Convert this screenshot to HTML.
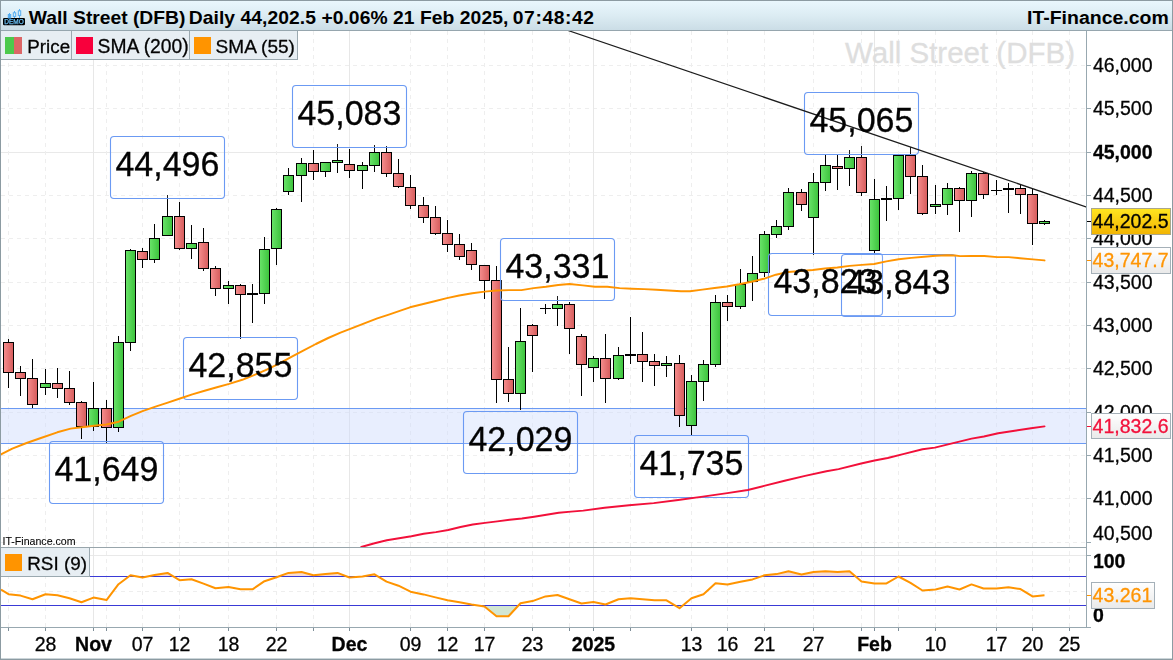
<!DOCTYPE html>
<html><head><meta charset="utf-8"><title>Wall Street (DFB) Daily</title>
<style>
html,body{margin:0;padding:0;background:#fff;}
body{width:1173px;height:660px;overflow:hidden;font-family:"Liberation Sans", Arial, sans-serif;}
svg{display:block;}
text{font-family:"Liberation Sans", Arial, sans-serif;}
.ax{font-size:19.5px;fill:#000;}
.b{font-weight:bold;}
.big{font-size:34px;fill:#000;}
</style></head><body>
<svg width="1173" height="660" viewBox="0 0 1173 660">
<defs>
<linearGradient id="tg" x1="0" y1="0" x2="0" y2="1"><stop offset="0" stop-color="#e9f7fd"/><stop offset="0.5" stop-color="#dcecf3"/><stop offset="1" stop-color="#cbdde6"/></linearGradient>
<linearGradient id="gg" x1="0" y1="0" x2="1" y2="0"><stop offset="0" stop-color="#6ae46a"/><stop offset="1" stop-color="#3cc23c"/></linearGradient>
<linearGradient id="rg" x1="0" y1="0" x2="1" y2="0"><stop offset="0" stop-color="#f68e8e"/><stop offset="1" stop-color="#d65c5c"/></linearGradient>
<linearGradient id="yg" x1="0" y1="0" x2="0" y2="1"><stop offset="0" stop-color="#ffe61e"/><stop offset="1" stop-color="#f2b400"/></linearGradient>
<linearGradient id="wg" x1="0" y1="0" x2="0" y2="1"><stop offset="0" stop-color="#ffffff"/><stop offset="1" stop-color="#e9e9e9"/></linearGradient>
<clipPath id="cm"><rect x="1" y="31" width="1085" height="516"/></clipPath>
<clipPath id="cr"><rect x="1" y="548" width="1085" height="79"/></clipPath>
<clipPath id="c70"><rect x="1" y="548" width="1085" height="28.5"/></clipPath>
<clipPath id="c30"><rect x="1" y="605.5" width="1085" height="22"/></clipPath>
</defs>
<rect width="1173" height="660" fill="#fff"/>

<g shape-rendering="crispEdges" fill="none" stroke-width="1">
<line x1="1" x2="1086" y1="65.5" y2="65.5" stroke="#eeeeee" stroke-dasharray="4 4"/>
<line x1="1" x2="1086" y1="108.5" y2="108.5" stroke="#eeeeee" stroke-dasharray="4 4"/>
<line x1="1" x2="1086" y1="152.5" y2="152.5" stroke="#e9e9e9"/>
<line x1="1" x2="1086" y1="195.5" y2="195.5" stroke="#eeeeee" stroke-dasharray="4 4"/>
<line x1="1" x2="1086" y1="238.5" y2="238.5" stroke="#eeeeee" stroke-dasharray="4 4"/>
<line x1="1" x2="1086" y1="282.5" y2="282.5" stroke="#eeeeee" stroke-dasharray="4 4"/>
<line x1="1" x2="1086" y1="325.5" y2="325.5" stroke="#eeeeee" stroke-dasharray="4 4"/>
<line x1="1" x2="1086" y1="368.5" y2="368.5" stroke="#eeeeee" stroke-dasharray="4 4"/>
<line x1="1" x2="1086" y1="412.5" y2="412.5" stroke="#eeeeee" stroke-dasharray="4 4"/>
<line x1="1" x2="1086" y1="455.5" y2="455.5" stroke="#eeeeee" stroke-dasharray="4 4"/>
<line x1="1" x2="1086" y1="498.5" y2="498.5" stroke="#eeeeee" stroke-dasharray="4 4"/>
<line x1="1" x2="1086" y1="542.5" y2="542.5" stroke="#eeeeee" stroke-dasharray="4 4"/>
<line x1="1" x2="1086" y1="555.5" y2="555.5" stroke="#e9e9e9"/>
<line x1="1" x2="1086" y1="591.5" y2="591.5" stroke="#eeeeee" stroke-dasharray="4 4"/>
<line x1="8.5" x2="8.5" y1="31" y2="627" stroke="#eeeeee" stroke-dasharray="4 4"/>
<line x1="45.5" x2="45.5" y1="31" y2="627" stroke="#eeeeee" stroke-dasharray="4 4"/>
<line x1="93.5" x2="93.5" y1="31" y2="627" stroke="#e7e7e7"/>
<line x1="106.5" x2="106.5" y1="31" y2="627" stroke="#eeeeee" stroke-dasharray="4 4"/>
<line x1="142.5" x2="142.5" y1="31" y2="627" stroke="#eeeeee" stroke-dasharray="4 4"/>
<line x1="179.5" x2="179.5" y1="31" y2="627" stroke="#eeeeee" stroke-dasharray="4 4"/>
<line x1="228.5" x2="228.5" y1="31" y2="627" stroke="#eeeeee" stroke-dasharray="4 4"/>
<line x1="276.5" x2="276.5" y1="31" y2="627" stroke="#eeeeee" stroke-dasharray="4 4"/>
<line x1="313.5" x2="313.5" y1="31" y2="627" stroke="#eeeeee" stroke-dasharray="4 4"/>
<line x1="349.5" x2="349.5" y1="31" y2="627" stroke="#e7e7e7"/>
<line x1="410.5" x2="410.5" y1="31" y2="627" stroke="#eeeeee" stroke-dasharray="4 4"/>
<line x1="447.5" x2="447.5" y1="31" y2="627" stroke="#eeeeee" stroke-dasharray="4 4"/>
<line x1="484.5" x2="484.5" y1="31" y2="627" stroke="#eeeeee" stroke-dasharray="4 4"/>
<line x1="532.5" x2="532.5" y1="31" y2="627" stroke="#eeeeee" stroke-dasharray="4 4"/>
<line x1="569.5" x2="569.5" y1="31" y2="627" stroke="#eeeeee" stroke-dasharray="4 4"/>
<line x1="593.5" x2="593.5" y1="31" y2="627" stroke="#e7e7e7"/>
<line x1="630.5" x2="630.5" y1="31" y2="627" stroke="#eeeeee" stroke-dasharray="4 4"/>
<line x1="691.5" x2="691.5" y1="31" y2="627" stroke="#eeeeee" stroke-dasharray="4 4"/>
<line x1="727.5" x2="727.5" y1="31" y2="627" stroke="#eeeeee" stroke-dasharray="4 4"/>
<line x1="764.5" x2="764.5" y1="31" y2="627" stroke="#eeeeee" stroke-dasharray="4 4"/>
<line x1="813.5" x2="813.5" y1="31" y2="627" stroke="#eeeeee" stroke-dasharray="4 4"/>
<line x1="861.5" x2="861.5" y1="31" y2="627" stroke="#eeeeee" stroke-dasharray="4 4"/>
<line x1="874.5" x2="874.5" y1="31" y2="627" stroke="#e7e7e7"/>
<line x1="898.5" x2="898.5" y1="31" y2="627" stroke="#eeeeee" stroke-dasharray="4 4"/>
<line x1="935.5" x2="935.5" y1="31" y2="627" stroke="#eeeeee" stroke-dasharray="4 4"/>
<line x1="996.5" x2="996.5" y1="31" y2="627" stroke="#eeeeee" stroke-dasharray="4 4"/>
<line x1="1032.5" x2="1032.5" y1="31" y2="627" stroke="#eeeeee" stroke-dasharray="4 4"/>
<line x1="1069.5" x2="1069.5" y1="31" y2="627" stroke="#eeeeee" stroke-dasharray="4 4"/>
</g>
<g opacity="0.99"><text x="845" y="62.5" font-size="29.5" fill="#dedede" stroke="#dedede" stroke-width="0.3">Wall Street (DFB)</text></g>
<rect x="1" y="408.5" width="1085" height="35" fill="rgba(205,218,252,0.45)"/>
<g shape-rendering="crispEdges" stroke="#6b9af3" stroke-width="1"><line x1="1" x2="1086" y1="408.5" y2="408.5"/><line x1="1" x2="1086" y1="443.5" y2="443.5"/></g>
<g clip-path="url(#cm)" shape-rendering="crispEdges" stroke="#000" stroke-width="1">
<rect x="8" y="338.7" width="1" height="49.6" fill="#000" stroke="none"/>
<rect x="3.5" y="342.5" width="10" height="30.0" fill="url(#rg)"/>
<rect x="20" y="366.0" width="1" height="30.3" fill="#000" stroke="none"/>
<rect x="15.5" y="372.5" width="10" height="6.0" fill="url(#rg)"/>
<rect x="32" y="359.1" width="1" height="49.2" fill="#000" stroke="none"/>
<rect x="27.5" y="378.5" width="10" height="26.0" fill="url(#rg)"/>
<rect x="45" y="369.1" width="1" height="25.9" fill="#000" stroke="none"/>
<rect x="40.5" y="383.5" width="10" height="4.0" fill="url(#gg)"/>
<rect x="57" y="368.2" width="1" height="29.9" fill="#000" stroke="none"/>
<rect x="52.5" y="383.5" width="10" height="5.0" fill="url(#rg)"/>
<rect x="69" y="371.3" width="1" height="33.7" fill="#000" stroke="none"/>
<rect x="64.5" y="388.5" width="10" height="14.0" fill="url(#rg)"/>
<rect x="81" y="400.9" width="1" height="38.3" fill="#000" stroke="none"/>
<rect x="76.5" y="402.5" width="10" height="24.0" fill="url(#rg)"/>
<rect x="93" y="382.2" width="1" height="48.8" fill="#000" stroke="none"/>
<rect x="88.5" y="408.5" width="10" height="18.0" fill="url(#gg)"/>
<rect x="106" y="400.0" width="1" height="43.2" fill="#000" stroke="none"/>
<rect x="101.5" y="408.5" width="10" height="19.0" fill="url(#rg)"/>
<rect x="118" y="335.5" width="1" height="96.5" fill="#000" stroke="none"/>
<rect x="113.5" y="342.5" width="10" height="85.0" fill="url(#gg)"/>
<rect x="130" y="248.9" width="1" height="102.1" fill="#000" stroke="none"/>
<rect x="125.5" y="250.5" width="10" height="92.0" fill="url(#gg)"/>
<rect x="142" y="248.2" width="1" height="19.9" fill="#000" stroke="none"/>
<rect x="137.5" y="251.5" width="10" height="8.0" fill="url(#rg)"/>
<rect x="154" y="223.9" width="1" height="39.3" fill="#000" stroke="none"/>
<rect x="149.5" y="238.5" width="10" height="21.0" fill="url(#gg)"/>
<rect x="167" y="194.8" width="1" height="41.0" fill="#000" stroke="none"/>
<rect x="162.5" y="216.5" width="10" height="19.0" fill="url(#gg)"/>
<rect x="179" y="202.1" width="1" height="48.3" fill="#000" stroke="none"/>
<rect x="174.5" y="216.5" width="10" height="32.0" fill="url(#rg)"/>
<rect x="191" y="225.2" width="1" height="33.9" fill="#000" stroke="none"/>
<rect x="186.5" y="243.5" width="10" height="5.0" fill="url(#gg)"/>
<rect x="203" y="228.1" width="1" height="43.1" fill="#000" stroke="none"/>
<rect x="198.5" y="242.5" width="10" height="26.0" fill="url(#rg)"/>
<rect x="215" y="266.4" width="1" height="30.0" fill="#000" stroke="none"/>
<rect x="210.5" y="268.5" width="10" height="20.0" fill="url(#rg)"/>
<rect x="228" y="281.4" width="1" height="23.0" fill="#000" stroke="none"/>
<rect x="223.5" y="285.5" width="10" height="3.0" fill="url(#gg)"/>
<rect x="240" y="284.1" width="1" height="55.0" fill="#000" stroke="none"/>
<rect x="235.5" y="285.5" width="10" height="9.0" fill="url(#rg)"/>
<rect x="252" y="284.1" width="1" height="38.5" fill="#000" stroke="none"/>
<rect x="247.0" y="293" width="11" height="2" fill="#000" stroke="none"/>
<rect x="264" y="237.3" width="1" height="67.1" fill="#000" stroke="none"/>
<rect x="259.5" y="249.5" width="10" height="44.0" fill="url(#gg)"/>
<rect x="276" y="207.9" width="1" height="57.4" fill="#000" stroke="none"/>
<rect x="271.5" y="209.5" width="10" height="39.0" fill="url(#gg)"/>
<rect x="288" y="168.1" width="1" height="27.1" fill="#000" stroke="none"/>
<rect x="283.5" y="175.5" width="10" height="16.0" fill="url(#gg)"/>
<rect x="301" y="157.9" width="1" height="44.4" fill="#000" stroke="none"/>
<rect x="296.5" y="163.5" width="10" height="12.0" fill="url(#gg)"/>
<rect x="313" y="150.1" width="1" height="30.1" fill="#000" stroke="none"/>
<rect x="308.5" y="163.5" width="10" height="8.0" fill="url(#rg)"/>
<rect x="325" y="162.2" width="1" height="15.1" fill="#000" stroke="none"/>
<rect x="320.5" y="162.5" width="10" height="9.0" fill="url(#gg)"/>
<rect x="337" y="144.1" width="1" height="29.1" fill="#000" stroke="none"/>
<rect x="332.5" y="160.5" width="10" height="2.0" fill="url(#gg)"/>
<rect x="349" y="148.9" width="1" height="29.4" fill="#000" stroke="none"/>
<rect x="344.5" y="164.5" width="10" height="6.0" fill="url(#rg)"/>
<rect x="362" y="162.0" width="1" height="27.2" fill="#000" stroke="none"/>
<rect x="357.5" y="165.5" width="10" height="5.0" fill="url(#gg)"/>
<rect x="374" y="145.0" width="1" height="27.2" fill="#000" stroke="none"/>
<rect x="369.5" y="152.5" width="10" height="13.0" fill="url(#gg)"/>
<rect x="386" y="146.2" width="1" height="31.1" fill="#000" stroke="none"/>
<rect x="381.5" y="152.5" width="10" height="21.0" fill="url(#rg)"/>
<rect x="398" y="159.1" width="1" height="29.1" fill="#000" stroke="none"/>
<rect x="393.5" y="173.5" width="10" height="13.0" fill="url(#rg)"/>
<rect x="410" y="175.1" width="1" height="34.2" fill="#000" stroke="none"/>
<rect x="405.5" y="187.5" width="10" height="18.0" fill="url(#rg)"/>
<rect x="423" y="197.4" width="1" height="25.7" fill="#000" stroke="none"/>
<rect x="418.5" y="205.5" width="10" height="12.0" fill="url(#rg)"/>
<rect x="435" y="205.9" width="1" height="29.3" fill="#000" stroke="none"/>
<rect x="430.5" y="217.5" width="10" height="16.0" fill="url(#rg)"/>
<rect x="447" y="220.2" width="1" height="32.0" fill="#000" stroke="none"/>
<rect x="442.5" y="233.5" width="10" height="11.0" fill="url(#rg)"/>
<rect x="459" y="234.2" width="1" height="26.0" fill="#000" stroke="none"/>
<rect x="454.5" y="244.5" width="10" height="12.0" fill="url(#rg)"/>
<rect x="471" y="243.0" width="1" height="26.9" fill="#000" stroke="none"/>
<rect x="466.5" y="250.5" width="10" height="14.0" fill="url(#rg)"/>
<rect x="484" y="265.4" width="1" height="33.1" fill="#000" stroke="none"/>
<rect x="479.5" y="265.5" width="10" height="15.0" fill="url(#rg)"/>
<rect x="496" y="266.0" width="1" height="137.3" fill="#000" stroke="none"/>
<rect x="491.5" y="280.5" width="10" height="99.0" fill="url(#rg)"/>
<rect x="508" y="347.2" width="1" height="55.2" fill="#000" stroke="none"/>
<rect x="503.5" y="379.5" width="10" height="14.0" fill="url(#rg)"/>
<rect x="520" y="308.3" width="1" height="101.9" fill="#000" stroke="none"/>
<rect x="515.5" y="341.5" width="10" height="52.0" fill="url(#gg)"/>
<rect x="532" y="323.6" width="1" height="48.6" fill="#000" stroke="none"/>
<rect x="527.5" y="325.5" width="10" height="10.0" fill="url(#rg)"/>
<rect x="545" y="304.3" width="1" height="9.7" fill="#000" stroke="none"/>
<rect x="540.0" y="307.5" width="11" height="1" fill="#000" stroke="none"/>
<rect x="557" y="296.2" width="1" height="29.3" fill="#000" stroke="none"/>
<rect x="552.5" y="304.5" width="10" height="4.0" fill="url(#gg)"/>
<rect x="569" y="302.0" width="1" height="51.5" fill="#000" stroke="none"/>
<rect x="564.5" y="304.5" width="10" height="24.0" fill="url(#rg)"/>
<rect x="581" y="333.7" width="1" height="61.8" fill="#000" stroke="none"/>
<rect x="576.5" y="336.5" width="10" height="28.0" fill="url(#rg)"/>
<rect x="593" y="355.8" width="1" height="26.4" fill="#000" stroke="none"/>
<rect x="588.5" y="358.5" width="10" height="9.0" fill="url(#gg)"/>
<rect x="605" y="334.2" width="1" height="69.1" fill="#000" stroke="none"/>
<rect x="600.5" y="358.5" width="10" height="20.0" fill="url(#rg)"/>
<rect x="618" y="347.2" width="1" height="33.0" fill="#000" stroke="none"/>
<rect x="613.5" y="355.5" width="10" height="23.0" fill="url(#gg)"/>
<rect x="630" y="317.0" width="1" height="47.4" fill="#000" stroke="none"/>
<rect x="625.0" y="354" width="11" height="2" fill="#000" stroke="none"/>
<rect x="642" y="331.7" width="1" height="50.4" fill="#000" stroke="none"/>
<rect x="637.5" y="354.5" width="10" height="7.0" fill="url(#rg)"/>
<rect x="654" y="354.3" width="1" height="32.0" fill="#000" stroke="none"/>
<rect x="649.5" y="361.5" width="10" height="4.0" fill="url(#rg)"/>
<rect x="666" y="356.3" width="1" height="21.1" fill="#000" stroke="none"/>
<rect x="661.5" y="363.5" width="10" height="2.0" fill="url(#gg)"/>
<rect x="679" y="355.0" width="1" height="72.1" fill="#000" stroke="none"/>
<rect x="674.5" y="363.5" width="10" height="52.0" fill="url(#rg)"/>
<rect x="691" y="375.1" width="1" height="60.3" fill="#000" stroke="none"/>
<rect x="686.5" y="381.5" width="10" height="44.0" fill="url(#gg)"/>
<rect x="703" y="360.2" width="1" height="41.2" fill="#000" stroke="none"/>
<rect x="698.5" y="364.5" width="10" height="17.0" fill="url(#gg)"/>
<rect x="715" y="295.0" width="1" height="72.4" fill="#000" stroke="none"/>
<rect x="710.5" y="302.5" width="10" height="62.0" fill="url(#gg)"/>
<rect x="727" y="295.0" width="1" height="26.2" fill="#000" stroke="none"/>
<rect x="722.5" y="302.5" width="10" height="4.0" fill="url(#rg)"/>
<rect x="740" y="268.5" width="1" height="40.6" fill="#000" stroke="none"/>
<rect x="735.5" y="284.5" width="10" height="22.0" fill="url(#gg)"/>
<rect x="752" y="256.0" width="1" height="45.4" fill="#000" stroke="none"/>
<rect x="747.5" y="273.5" width="10" height="8.0" fill="url(#gg)"/>
<rect x="764" y="231.1" width="1" height="46.2" fill="#000" stroke="none"/>
<rect x="759.5" y="234.5" width="10" height="38.0" fill="url(#gg)"/>
<rect x="776" y="220.0" width="1" height="18.0" fill="#000" stroke="none"/>
<rect x="771.5" y="226.5" width="10" height="8.0" fill="url(#gg)"/>
<rect x="788" y="188.3" width="1" height="41.7" fill="#000" stroke="none"/>
<rect x="783.5" y="192.5" width="10" height="34.0" fill="url(#gg)"/>
<rect x="801" y="189.1" width="1" height="22.1" fill="#000" stroke="none"/>
<rect x="796.5" y="192.5" width="10" height="12.0" fill="url(#rg)"/>
<rect x="813" y="173.1" width="1" height="81.4" fill="#000" stroke="none"/>
<rect x="808.5" y="182.5" width="10" height="35.0" fill="url(#gg)"/>
<rect x="825" y="153.5" width="1" height="37.4" fill="#000" stroke="none"/>
<rect x="820.5" y="165.5" width="10" height="17.0" fill="url(#gg)"/>
<rect x="837" y="155.1" width="1" height="35.0" fill="#000" stroke="none"/>
<rect x="832.5" y="166.5" width="10" height="2.0" fill="url(#rg)"/>
<rect x="849" y="149.9" width="1" height="36.3" fill="#000" stroke="none"/>
<rect x="844.5" y="157.5" width="10" height="11.0" fill="url(#gg)"/>
<rect x="861" y="146.1" width="1" height="49.9" fill="#000" stroke="none"/>
<rect x="856.5" y="157.5" width="10" height="35.0" fill="url(#rg)"/>
<rect x="874" y="179.3" width="1" height="73.9" fill="#000" stroke="none"/>
<rect x="869.5" y="199.5" width="10" height="51.0" fill="url(#gg)"/>
<rect x="886" y="186.1" width="1" height="35.0" fill="#000" stroke="none"/>
<rect x="881.0" y="198" width="11" height="2" fill="#000" stroke="none"/>
<rect x="898" y="155.2" width="1" height="55.1" fill="#000" stroke="none"/>
<rect x="893.5" y="155.5" width="10" height="43.0" fill="url(#gg)"/>
<rect x="910" y="147.3" width="1" height="46.2" fill="#000" stroke="none"/>
<rect x="905.5" y="155.5" width="10" height="21.0" fill="url(#rg)"/>
<rect x="922" y="165.1" width="1" height="50.1" fill="#000" stroke="none"/>
<rect x="917.5" y="176.5" width="10" height="37.0" fill="url(#rg)"/>
<rect x="935" y="185.2" width="1" height="29.0" fill="#000" stroke="none"/>
<rect x="930.5" y="204.5" width="10" height="2.0" fill="url(#gg)"/>
<rect x="947" y="182.8" width="1" height="32.4" fill="#000" stroke="none"/>
<rect x="942.5" y="188.5" width="10" height="16.0" fill="url(#gg)"/>
<rect x="959" y="187.1" width="1" height="45.3" fill="#000" stroke="none"/>
<rect x="954.5" y="188.5" width="10" height="12.0" fill="url(#rg)"/>
<rect x="971" y="171.0" width="1" height="46.2" fill="#000" stroke="none"/>
<rect x="966.5" y="173.5" width="10" height="27.0" fill="url(#gg)"/>
<rect x="983" y="172.4" width="1" height="26.1" fill="#000" stroke="none"/>
<rect x="978.5" y="173.5" width="10" height="21.0" fill="url(#rg)"/>
<rect x="996" y="180.2" width="1" height="14.3" fill="#000" stroke="none"/>
<rect x="991.0" y="189.5" width="11" height="1" fill="#000" stroke="none"/>
<rect x="1008" y="182.8" width="1" height="30.4" fill="#000" stroke="none"/>
<rect x="1003.0" y="188" width="11" height="2" fill="#000" stroke="none"/>
<rect x="1020" y="184.8" width="1" height="29.4" fill="#000" stroke="none"/>
<rect x="1015.5" y="188.5" width="10" height="6.0" fill="url(#rg)"/>
<rect x="1032" y="188.5" width="1" height="56.7" fill="#000" stroke="none"/>
<rect x="1027.5" y="194.5" width="10" height="29.0" fill="url(#rg)"/>
<rect x="1044" y="220.0" width="1" height="5.3" fill="#000" stroke="none"/>
<rect x="1039.5" y="221.5" width="10" height="2.0" fill="url(#gg)"/>
</g>
<rect x="110.5" y="136.5" width="114" height="62" rx="3.5" fill="rgba(255,255,255,0.12)" stroke="#6b9af3" stroke-width="1.1"/>
<rect x="292.5" y="85.5" width="114" height="62" rx="3.5" fill="rgba(255,255,255,0.12)" stroke="#6b9af3" stroke-width="1.1"/>
<rect x="183.5" y="337.5" width="114" height="62" rx="3.5" fill="rgba(255,255,255,0.12)" stroke="#6b9af3" stroke-width="1.1"/>
<rect x="49.5" y="441.5" width="114" height="62" rx="3.5" fill="rgba(255,255,255,0.12)" stroke="#6b9af3" stroke-width="1.1"/>
<rect x="500.5" y="238.5" width="114" height="62" rx="3.5" fill="rgba(255,255,255,0.12)" stroke="#6b9af3" stroke-width="1.1"/>
<rect x="463.5" y="411.5" width="114" height="62" rx="3.5" fill="rgba(255,255,255,0.12)" stroke="#6b9af3" stroke-width="1.1"/>
<rect x="634.5" y="435.5" width="114" height="62" rx="3.5" fill="rgba(255,255,255,0.12)" stroke="#6b9af3" stroke-width="1.1"/>
<rect x="804.5" y="92.5" width="114" height="62" rx="3.5" fill="rgba(255,255,255,0.12)" stroke="#6b9af3" stroke-width="1.1"/>
<rect x="768.5" y="253.5" width="114" height="62" rx="3.5" fill="rgba(255,255,255,0.12)" stroke="#6b9af3" stroke-width="1.1"/>
<rect x="841.5" y="254.5" width="114" height="62" rx="3.5" fill="rgba(255,255,255,0.12)" stroke="#6b9af3" stroke-width="1.1"/>
<g clip-path="url(#cm)" fill="none" stroke-linejoin="round" stroke-linecap="round">
<path d="M361.3,547.0 L374.6,543.3 L386.8,540.3 L399.1,538.2 L411.4,536.2 L423.7,533.7 L435.9,532.1 L448.2,530.0 L460.5,527.0 L472.8,524.5 L485.0,522.9 L497.3,521.4 L509.6,519.8 L521.9,518.5 L534.1,516.7 L546.4,514.7 L558.7,512.8 L571.0,511.6 L583.2,510.6 L604.6,507.8 L629.1,505.2 L653.7,503.1 L678.2,500.0 L702.8,496.6 L727.3,493.1 L747.8,490.0 L764.1,485.9 L784.6,480.8 L805.1,475.9 L826.4,471.3 L838.6,469.1 L861.2,463.5 L874.5,460.5 L887.7,458.0 L904.1,453.9 L922.5,449.2 L934.8,447.6 L953.2,443.1 L971.6,438.6 L983.9,436.5 L998.2,433.3 L1014.6,430.8 L1031.0,428.3 L1044.5,426.4" stroke="#f2103a" stroke-width="1.95"/>
<path d="M1.0,454.4 L12.3,448.7 L26.6,443.0 L40.9,438.0 L57.3,432.3 L70.6,428.6 L81.8,427.2 L94.1,425.8 L106.4,424.5 L118.7,421.7 L130.9,415.9 L143.2,410.8 L155.5,406.7 L167.8,402.6 L180.0,398.5 L192.3,394.4 L204.6,390.8 L216.9,387.3 L229.2,383.9 L242.3,379.8 L254.6,374.8 L266.8,369.7 L279.1,363.6 L291.4,356.8 L303.7,350.3 L315.9,344.0 L328.2,338.0 L340.5,332.7 L352.8,327.8 L365.0,323.1 L377.3,318.4 L389.6,314.3 L401.9,310.2 L410.0,307.3 L422.3,304.3 L434.6,301.2 L446.9,298.1 L459.2,295.5 L472.3,293.2 L484.6,291.6 L496.8,290.5 L509.1,290.1 L521.4,290.1 L533.7,288.1 L545.9,286.7 L558.2,285.0 L569.5,284.0 L582.8,285.4 L595.0,286.7 L607.3,286.7 L619.6,288.1 L631.9,288.7 L644.1,289.1 L656.4,289.7 L668.7,290.5 L681.0,291.2 L690.0,291.3 L702.3,289.6 L714.6,288.0 L726.8,286.5 L739.1,284.3 L751.4,281.8 L763.7,278.8 L775.9,274.7 L788.2,272.0 L800.5,271.0 L812.8,270.0 L825.0,268.5 L837.3,267.5 L849.6,265.9 L861.9,264.9 L874.1,264.0 L886.4,261.4 L898.7,259.3 L911.3,257.9 L924.3,256.8 L935.7,255.8 L947.0,255.2 L955.1,255.5 L960.0,256.1 L971.3,256.0 L984.3,256.0 L997.3,257.1 L1008.6,257.1 L1020.0,258.2 L1032.9,259.4 L1044.5,260.4" stroke="#ff9400" stroke-width="1.95"/>
<line x1="568" y1="30.5" x2="1086" y2="206.8" stroke="#1c1c1c" stroke-width="1.25"/>
</g>
<g shape-rendering="crispEdges"><line x1="1" x2="1086" y1="547.5" y2="547.5" stroke="#98a5ab" stroke-width="1"/></g>
<path d="M1.0,589.5 L8.5,594.2 L20.5,595.6 L32.5,599.3 L45.5,594.2 L57.5,595.2 L69.5,598.3 L81.5,602.3 L93.5,597.6 L106.5,600.1 L118.5,584.2 L130.5,575.3 L142.5,577.5 L154.5,575.1 L167.5,572.9 L179.5,580.2 L191.5,579.2 L203.5,583.6 L215.5,588.3 L228.5,587.1 L240.5,589.3 L252.5,589.3 L264.5,581.2 L276.5,577.3 L288.5,572.9 L301.5,572.0 L313.5,575.3 L325.5,574.1 L337.5,572.9 L349.5,577.5 L362.5,576.5 L374.5,574.3 L386.5,581.6 L398.5,585.7 L410.5,591.7 L423.5,594.4 L435.5,597.4 L447.5,600.3 L459.5,602.3 L471.5,604.5 L484.5,606.4 L496.5,616.3 L508.5,616.3 L520.5,603.3 L532.5,601.1 L545.5,596.4 L557.5,595.0 L569.5,599.3 L581.5,603.5 L593.5,602.1 L605.5,604.5 L618.5,599.3 L630.5,598.2 L642.5,599.3 L654.5,600.3 L666.5,600.3 L679.5,608.2 L691.5,598.3 L703.5,594.2 L715.5,583.2 L727.5,584.6 L740.5,581.8 L752.5,579.4 L764.5,575.3 L776.5,574.1 L788.5,571.2 L801.5,574.5 L813.5,572.1 L825.5,571.2 L837.5,572.1 L849.5,571.2 L861.5,581.4 L874.5,583.4 L886.5,583.4 L898.5,576.5 L910.5,582.8 L922.5,590.5 L935.5,589.5 L947.5,586.5 L959.5,589.5 L971.5,584.4 L983.5,588.5 L996.5,588.5 L1008.5,587.3 L1020.5,589.1 L1032.5,596.4 L1044.5,595.2 L1044.5,576.5 L1,576.5 Z" fill="#f6dcd4" clip-path="url(#c70)"/>
<path d="M1.0,589.5 L8.5,594.2 L20.5,595.6 L32.5,599.3 L45.5,594.2 L57.5,595.2 L69.5,598.3 L81.5,602.3 L93.5,597.6 L106.5,600.1 L118.5,584.2 L130.5,575.3 L142.5,577.5 L154.5,575.1 L167.5,572.9 L179.5,580.2 L191.5,579.2 L203.5,583.6 L215.5,588.3 L228.5,587.1 L240.5,589.3 L252.5,589.3 L264.5,581.2 L276.5,577.3 L288.5,572.9 L301.5,572.0 L313.5,575.3 L325.5,574.1 L337.5,572.9 L349.5,577.5 L362.5,576.5 L374.5,574.3 L386.5,581.6 L398.5,585.7 L410.5,591.7 L423.5,594.4 L435.5,597.4 L447.5,600.3 L459.5,602.3 L471.5,604.5 L484.5,606.4 L496.5,616.3 L508.5,616.3 L520.5,603.3 L532.5,601.1 L545.5,596.4 L557.5,595.0 L569.5,599.3 L581.5,603.5 L593.5,602.1 L605.5,604.5 L618.5,599.3 L630.5,598.2 L642.5,599.3 L654.5,600.3 L666.5,600.3 L679.5,608.2 L691.5,598.3 L703.5,594.2 L715.5,583.2 L727.5,584.6 L740.5,581.8 L752.5,579.4 L764.5,575.3 L776.5,574.1 L788.5,571.2 L801.5,574.5 L813.5,572.1 L825.5,571.2 L837.5,572.1 L849.5,571.2 L861.5,581.4 L874.5,583.4 L886.5,583.4 L898.5,576.5 L910.5,582.8 L922.5,590.5 L935.5,589.5 L947.5,586.5 L959.5,589.5 L971.5,584.4 L983.5,588.5 L996.5,588.5 L1008.5,587.3 L1020.5,589.1 L1032.5,596.4 L1044.5,595.2 L1044.5,605.5 L1,605.5 Z" fill="#d2e6d2" clip-path="url(#c30)"/>
<g shape-rendering="crispEdges" stroke="#3a3ad6" stroke-width="1"><line x1="1" x2="1086" y1="576.5" y2="576.5"/><line x1="1" x2="1086" y1="605.5" y2="605.5"/></g>
<path d="M1.0,589.5 L8.5,594.2 L20.5,595.6 L32.5,599.3 L45.5,594.2 L57.5,595.2 L69.5,598.3 L81.5,602.3 L93.5,597.6 L106.5,600.1 L118.5,584.2 L130.5,575.3 L142.5,577.5 L154.5,575.1 L167.5,572.9 L179.5,580.2 L191.5,579.2 L203.5,583.6 L215.5,588.3 L228.5,587.1 L240.5,589.3 L252.5,589.3 L264.5,581.2 L276.5,577.3 L288.5,572.9 L301.5,572.0 L313.5,575.3 L325.5,574.1 L337.5,572.9 L349.5,577.5 L362.5,576.5 L374.5,574.3 L386.5,581.6 L398.5,585.7 L410.5,591.7 L423.5,594.4 L435.5,597.4 L447.5,600.3 L459.5,602.3 L471.5,604.5 L484.5,606.4 L496.5,616.3 L508.5,616.3 L520.5,603.3 L532.5,601.1 L545.5,596.4 L557.5,595.0 L569.5,599.3 L581.5,603.5 L593.5,602.1 L605.5,604.5 L618.5,599.3 L630.5,598.2 L642.5,599.3 L654.5,600.3 L666.5,600.3 L679.5,608.2 L691.5,598.3 L703.5,594.2 L715.5,583.2 L727.5,584.6 L740.5,581.8 L752.5,579.4 L764.5,575.3 L776.5,574.1 L788.5,571.2 L801.5,574.5 L813.5,572.1 L825.5,571.2 L837.5,572.1 L849.5,571.2 L861.5,581.4 L874.5,583.4 L886.5,583.4 L898.5,576.5 L910.5,582.8 L922.5,590.5 L935.5,589.5 L947.5,586.5 L959.5,589.5 L971.5,584.4 L983.5,588.5 L996.5,588.5 L1008.5,587.3 L1020.5,589.1 L1032.5,596.4 L1044.5,595.2" fill="none" stroke="#ff9400" stroke-width="2.0" stroke-linejoin="round" clip-path="url(#cr)"/>
<g shape-rendering="crispEdges" stroke="#98a8b0" stroke-width="1">
<line x1="1086.5" x2="1086.5" y1="31" y2="628"/>
<line x1="1" x2="1091" y1="627.5" y2="627.5"/>
<line x1="1087" x2="1091" y1="65.5" y2="65.5"/>
<line x1="1087" x2="1091" y1="108.5" y2="108.5"/>
<line x1="1087" x2="1091" y1="152.5" y2="152.5"/>
<line x1="1087" x2="1091" y1="195.5" y2="195.5"/>
<line x1="1087" x2="1091" y1="238.5" y2="238.5"/>
<line x1="1087" x2="1091" y1="282.5" y2="282.5"/>
<line x1="1087" x2="1091" y1="325.5" y2="325.5"/>
<line x1="1087" x2="1091" y1="368.5" y2="368.5"/>
<line x1="1087" x2="1091" y1="412.5" y2="412.5"/>
<line x1="1087" x2="1091" y1="455.5" y2="455.5"/>
<line x1="1087" x2="1091" y1="498.5" y2="498.5"/>
<line x1="1087" x2="1091" y1="542.5" y2="542.5"/>
<line x1="1087" x2="1091" y1="555.5" y2="555.5"/>
<line x1="8.5" x2="8.5" y1="628" y2="631" stroke="#7e8e98"/>
<line x1="45.5" x2="45.5" y1="628" y2="631" stroke="#7e8e98"/>
<line x1="93.5" x2="93.5" y1="628" y2="631" stroke="#7e8e98"/>
<line x1="106.5" x2="106.5" y1="628" y2="631" stroke="#7e8e98"/>
<line x1="142.5" x2="142.5" y1="628" y2="631" stroke="#7e8e98"/>
<line x1="179.5" x2="179.5" y1="628" y2="631" stroke="#7e8e98"/>
<line x1="228.5" x2="228.5" y1="628" y2="631" stroke="#7e8e98"/>
<line x1="276.5" x2="276.5" y1="628" y2="631" stroke="#7e8e98"/>
<line x1="313.5" x2="313.5" y1="628" y2="631" stroke="#7e8e98"/>
<line x1="349.5" x2="349.5" y1="628" y2="631" stroke="#7e8e98"/>
<line x1="410.5" x2="410.5" y1="628" y2="631" stroke="#7e8e98"/>
<line x1="447.5" x2="447.5" y1="628" y2="631" stroke="#7e8e98"/>
<line x1="484.5" x2="484.5" y1="628" y2="631" stroke="#7e8e98"/>
<line x1="532.5" x2="532.5" y1="628" y2="631" stroke="#7e8e98"/>
<line x1="569.5" x2="569.5" y1="628" y2="631" stroke="#7e8e98"/>
<line x1="593.5" x2="593.5" y1="628" y2="631" stroke="#7e8e98"/>
<line x1="630.5" x2="630.5" y1="628" y2="631" stroke="#7e8e98"/>
<line x1="691.5" x2="691.5" y1="628" y2="631" stroke="#7e8e98"/>
<line x1="727.5" x2="727.5" y1="628" y2="631" stroke="#7e8e98"/>
<line x1="764.5" x2="764.5" y1="628" y2="631" stroke="#7e8e98"/>
<line x1="813.5" x2="813.5" y1="628" y2="631" stroke="#7e8e98"/>
<line x1="861.5" x2="861.5" y1="628" y2="631" stroke="#7e8e98"/>
<line x1="874.5" x2="874.5" y1="628" y2="631" stroke="#7e8e98"/>
<line x1="898.5" x2="898.5" y1="628" y2="631" stroke="#7e8e98"/>
<line x1="935.5" x2="935.5" y1="628" y2="631" stroke="#7e8e98"/>
<line x1="996.5" x2="996.5" y1="628" y2="631" stroke="#7e8e98"/>
<line x1="1032.5" x2="1032.5" y1="628" y2="631" stroke="#7e8e98"/>
<line x1="1069.5" x2="1069.5" y1="628" y2="631" stroke="#7e8e98"/>
</g>
<g shape-rendering="crispEdges">
<line x1="1087" x2="1091" y1="221.5" y2="221.5" stroke="#000"/>
<line x1="1087" x2="1091" y1="260.5" y2="260.5" stroke="#ff9400"/>
<line x1="1087" x2="1091" y1="426.5" y2="426.5" stroke="#f2103a"/>
<line x1="1087" x2="1091" y1="595.5" y2="595.5" stroke="#ff9400"/>
</g>
<g shape-rendering="crispEdges">
<rect x="1" y="31" width="297" height="28" fill="#e7eef3"/>
<line x1="1" x2="298" y1="59.5" y2="59.5" stroke="#9ba9b0"/>
<line x1="71.5" x2="71.5" y1="31" y2="60" stroke="#9ba9b0"/>
<line x1="189.5" x2="189.5" y1="31" y2="60" stroke="#9ba9b0"/>
<line x1="297.5" x2="297.5" y1="31" y2="60" stroke="#9ba9b0"/>
<rect x="5" y="37" width="9" height="17" fill="#4cc94c"/><rect x="14" y="37" width="8" height="17" fill="#dc6666"/>
<rect x="76" y="37" width="17" height="17" fill="#f8003c"/>
<rect x="194" y="37" width="17" height="17" fill="#ff9400"/>
<rect x="1" y="548" width="88" height="28" fill="#e7eef3"/>
<line x1="1" x2="90" y1="576.5" y2="576.5" stroke="#9ba9b0"/>
<line x1="89.5" x2="89.5" y1="548" y2="577" stroke="#9ba9b0"/>
<rect x="5" y="554" width="17" height="17" fill="#ff9400"/>
</g>
<g opacity="0.99" stroke="#000" stroke-width="0.3">
<text class="big" transform="translate(115.4,175.6) scale(1,1.02)">44,496</text>
<text class="big" transform="translate(297.4,124.6) scale(1,1.02)">45,083</text>
<text class="big" transform="translate(188.4,376.6) scale(1,1.02)">42,855</text>
<text class="big" transform="translate(54.4,480.6) scale(1,1.02)">41,649</text>
<text class="big" transform="translate(505.4,277.6) scale(1,1.02)">43,331</text>
<text class="big" transform="translate(468.4,450.6) scale(1,1.02)">42,029</text>
<text class="big" transform="translate(639.4,474.6) scale(1,1.02)">41,735</text>
<text class="big" transform="translate(809.4,131.6) scale(1,1.02)">45,065</text>
<text class="big" transform="translate(773.4,292.6) scale(1,1.02)">43,823</text>
<text class="big" transform="translate(846.4,293.6) scale(1,1.02)">43,843</text>
<text x="2.5" y="545.3" font-size="10.6" fill="#000" stroke-width="0.1">IT-Finance.com</text>
<text class="ax" x="1092.9" y="72.0">46,000</text>
<text class="ax" x="1092.9" y="115.3">45,500</text>
<text class="ax b" x="1092.9" y="158.7">45,000</text>
<text class="ax" x="1092.9" y="202.0">44,500</text>
<text class="ax" x="1092.9" y="245.3">44,000</text>
<text class="ax" x="1092.9" y="288.7">43,500</text>
<text class="ax" x="1092.9" y="332.0">43,000</text>
<text class="ax" x="1092.9" y="375.3">42,500</text>
<text class="ax" x="1092.9" y="418.7">42,000</text>
<text class="ax" x="1092.9" y="462.0">41,500</text>
<text class="ax" x="1092.9" y="505.3">41,000</text>
<text class="ax" x="1092.9" y="539.8">40,500</text>
<text class="ax b" x="1092.9" y="568">100</text>
<text class="ax b" x="1092.9" y="621.8">0</text>
<text class="ax" x="45.5" y="650.5" text-anchor="middle">28</text>
<text class="ax b" x="93.5" y="650.5" text-anchor="middle">Nov</text>
<text class="ax" x="142.5" y="650.5" text-anchor="middle">07</text>
<text class="ax" x="179.5" y="650.5" text-anchor="middle">12</text>
<text class="ax" x="228.5" y="650.5" text-anchor="middle">18</text>
<text class="ax" x="276.5" y="650.5" text-anchor="middle">22</text>
<text class="ax b" x="349.5" y="650.5" text-anchor="middle">Dec</text>
<text class="ax" x="410.5" y="650.5" text-anchor="middle">09</text>
<text class="ax" x="447.5" y="650.5" text-anchor="middle">12</text>
<text class="ax" x="484.5" y="650.5" text-anchor="middle">17</text>
<text class="ax" x="532.5" y="650.5" text-anchor="middle">23</text>
<text class="ax b" x="593.5" y="650.5" text-anchor="middle">2025</text>
<text class="ax" x="691.5" y="650.5" text-anchor="middle">13</text>
<text class="ax" x="727.5" y="650.5" text-anchor="middle">16</text>
<text class="ax" x="764.5" y="650.5" text-anchor="middle">21</text>
<text class="ax" x="813.5" y="650.5" text-anchor="middle">27</text>
<text class="ax b" x="874.5" y="650.5" text-anchor="middle">Feb</text>
<text class="ax" x="935.5" y="650.5" text-anchor="middle">10</text>
<text class="ax" x="996.5" y="650.5" text-anchor="middle">17</text>
<text class="ax" x="1032.5" y="650.5" text-anchor="middle">20</text>
<text class="ax" x="1069.5" y="650.5" text-anchor="middle">25</text>
<rect x="1091.5" y="208.5" width="79" height="26" fill="url(#yg)" stroke="#a9a58a" stroke-width="1" shape-rendering="crispEdges"/>
<rect x="1091.5" y="247.5" width="79" height="26" fill="url(#wg)" stroke="#a4b0b8" stroke-width="1" shape-rendering="crispEdges"/>
<rect x="1091.5" y="413.5" width="79" height="25" fill="url(#wg)" stroke="#a4b0b8" stroke-width="1" shape-rendering="crispEdges"/>
<rect x="1091.5" y="582.5" width="63" height="26" fill="url(#wg)" stroke="#a4b0b8" stroke-width="1" shape-rendering="crispEdges"/>
<text class="ax" x="1092.6" y="228.2">44,202.5</text>
<text class="ax" x="1092.6" y="267.2" style="fill:#ff9400;stroke:#ff9400">43,747.7</text>
<text class="ax" x="1092.6" y="433" style="fill:#f2103a;stroke:#f2103a">41,832.6</text>
<text class="ax" x="1092.6" y="602.2" style="fill:#ff9400;stroke:#ff9400">43.261</text>
<text class="ax" style="font-size:18.8px" x="27.3" y="52.9">Price</text>
<text class="ax" style="font-size:19.3px" x="97.6" y="52.9">SMA (200)</text>
<text class="ax" style="font-size:19.05px" x="215.6" y="52.9">SMA (55)</text>
<text class="ax" style="font-size:18.9px" x="27.2" y="570">RSI (9)</text>
</g>
<rect x="1" y="1" width="1171" height="29" fill="url(#tg)"/>
<rect x="0" y="30" width="1173" height="1" fill="#96a6ae"/>
<text class="ax b" style="font-size:19.3px" x="28.8" y="0" transform="translate(0,23.8) scale(1,0.955)" textLength="156.6" lengthAdjust="spacing">Wall Street (DFB)</text>
<text class="ax b" style="font-size:19.3px" x="188.8" y="0" transform="translate(0,23.8) scale(1,0.955)" textLength="319.5" lengthAdjust="spacing">Daily 44,202.5 +0.06% 21 Feb 2025,</text>
<text class="ax b" style="font-size:19.3px" x="512.8" y="0" transform="translate(0,23.8) scale(1,0.955)" textLength="81.2" lengthAdjust="spacing">07:48:42</text>
<text class="ax b" x="1168.8" y="0" transform="translate(0,23.8) scale(1,0.955)" text-anchor="end">IT-Finance.com</text>
<g>
<rect x="3" y="18" width="22" height="7.2" rx="1.2" fill="#000"/>
<text x="14" y="24.2" font-size="6.6" fill="#6cc4fa" stroke="#6cc4fa" stroke-width="0.25" text-anchor="middle" textLength="19.4" lengthAdjust="spacingAndGlyphs">DEMO</text>
<g fill="none" stroke="#55aef2" stroke-width="1">
<rect x="8.3" y="14.5" width="2.4" height="3.5" fill="#55aef2"/><line x1="9.5" x2="9.5" y1="13" y2="18"/>
<rect x="13.3" y="12.8" width="2.4" height="3.6"/><line x1="14.5" x2="14.5" y1="11" y2="12.8"/><line x1="14.5" x2="14.5" y1="16.4" y2="18"/>
<rect x="18.3" y="10.8" width="2.4" height="4.6"/><line x1="19.5" x2="19.5" y1="9" y2="10.8"/><line x1="19.5" x2="19.5" y1="15.4" y2="18"/>
</g></g>
<g shape-rendering="crispEdges" fill="none">
<rect x="0.5" y="0.5" width="1172" height="659" stroke="#8c9ba2" stroke-width="1"/>
<line x1="1" x2="1172" y1="658.5" y2="658.5" stroke="#ccd5d9"/>
</g>
</svg></body></html>
